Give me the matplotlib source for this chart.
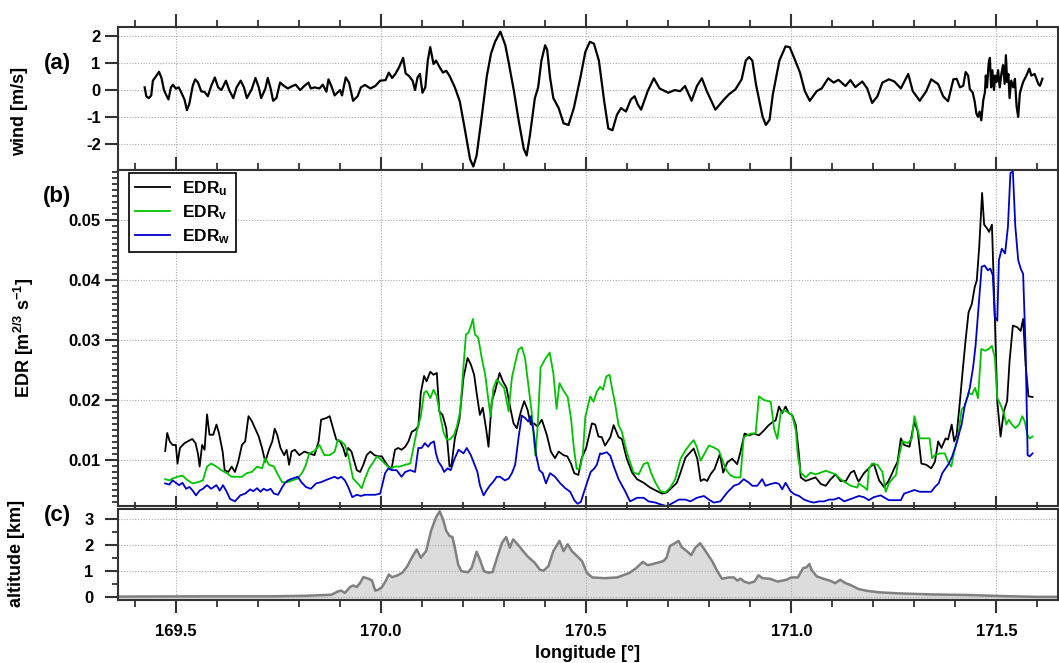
import matplotlib
matplotlib.use('Agg')
import matplotlib.pyplot as plt
from matplotlib.ticker import MultipleLocator, FormatStrFormatter

plt.rcParams['font.family'] = ['Liberation Sans', 'DejaVu Sans']
plt.rcParams['font.weight'] = 'bold'
plt.rcParams['mathtext.default'] = 'regular'
plt.rcParams['axes.unicode_minus'] = False

# (a) wind
wind_lon = [169.424, 169.428, 169.434, 169.440, 169.444, 169.451, 169.459, 169.465, 169.471, 169.477,
            169.482, 169.488, 169.493, 169.500, 169.507, 169.512, 169.521, 169.527, 169.533, 169.541,
            169.547, 169.554, 169.562, 169.570, 169.578, 169.586, 169.595, 169.603, 169.611, 169.622,
            169.630, 169.640, 169.648, 169.658, 169.666, 169.673, 169.685, 169.694, 169.702, 169.708,
            169.718, 169.724, 169.731, 169.737, 169.745, 169.754, 169.764, 169.773, 169.784, 169.792,
            169.803, 169.813, 169.823, 169.829, 169.838, 169.850, 169.858, 169.867, 169.872, 169.879,
            169.887, 169.900, 169.905, 169.914, 169.922, 169.932, 169.943, 169.951, 169.961, 169.974,
            169.986, 169.998, 170.011, 170.019, 170.027, 170.035, 170.044, 170.054, 170.060, 170.068,
            170.077, 170.083, 170.089, 170.095, 170.101, 170.108, 170.114, 170.120, 170.128, 170.134,
            170.143, 170.151, 170.159, 170.167, 170.180, 170.192, 170.204, 170.217, 170.225, 170.233,
            170.245, 170.258, 170.268, 170.278, 170.291, 170.303, 170.311, 170.324, 170.336, 170.348,
            170.355, 170.363, 170.375, 170.383, 170.391, 170.400, 170.405, 170.412, 170.420, 170.433,
            170.445, 170.457, 170.470, 170.486, 170.498, 170.509, 170.519, 170.531, 170.544, 170.554,
            170.564, 170.575, 170.585, 170.597, 170.609, 170.618, 170.626, 170.634, 170.650, 170.665,
            170.679, 170.700, 170.716, 170.729, 170.741, 170.757, 170.770, 170.782, 170.794, 170.815,
            170.836, 170.848, 170.864, 170.879, 170.889, 170.897, 170.905, 170.914, 170.930, 170.938,
            170.947, 170.955, 170.971, 170.986, 170.996, 171.008, 171.021, 171.033, 171.045, 171.062,
            171.074, 171.090, 171.103, 171.115, 171.132, 171.144, 171.156, 171.173, 171.185, 171.197,
            171.210, 171.222, 171.238, 171.251, 171.267, 171.285, 171.296, 171.313, 171.329, 171.341,
            171.358, 171.370, 171.382, 171.395, 171.403, 171.411, 171.419, 171.425, 171.431, 171.435,
            171.442, 171.447, 171.451, 171.455, 171.459, 171.463, 171.468, 171.472, 171.474, 171.477,
            171.481, 171.484, 171.487, 171.490, 171.494, 171.497, 171.500, 171.504, 171.508, 171.512,
            171.516, 171.520, 171.523, 171.526, 171.529, 171.532, 171.536, 171.541, 171.545, 171.549,
            171.553, 171.557, 171.561, 171.565, 171.573, 171.580, 171.585, 171.593, 171.602, 171.606,
            171.612]
wind = [0.10, -0.23, -0.30, -0.20, 0.35, 0.50, 0.68, 0.45, 0.00, -0.20,
        -0.35, 0.10, 0.20, 0.05, 0.10, -0.05, -0.35, -0.75, -0.50, 0.15,
        0.40, 0.28, -0.05, -0.07, -0.23, 0.15, 0.47, 0.10, 0.00, 0.35,
        0.00, -0.30, 0.10, 0.35, 0.10, -0.30, 0.03, 0.45, 0.10, -0.30,
        0.05, 0.45, 0.06, -0.40, -0.30, 0.28, 0.15, 0.06, 0.15, 0.20,
        0.00, 0.15, 0.28, 0.06, 0.10, 0.06, 0.20, -0.06, 0.40, 0.15,
        -0.20, 0.00, -0.20, 0.47, 0.28, -0.40, -0.23, 0.10, 0.19, 0.06,
        0.15, 0.35, 0.37, 0.65, 0.45, 0.60, 0.85, 1.20, 0.62, 0.53,
        0.35, 0.00, 0.47, 0.60, -0.10, 0.10, 1.10, 1.60, 0.97, 1.10,
        0.85, 0.65, 0.72, 0.53, 0.10, -0.42, -1.43, -2.57, -2.85, -2.44,
        -1.05, 0.53, 1.35, 1.80, 2.18, 1.67, 1.04, -0.04, -1.18, -2.19,
        -2.44, -1.68, -0.30, 0.10, 1.10, 1.67, 1.50, 0.47, -0.30, -0.67,
        -1.24, -1.30, -0.67, 0.47, 1.42, 1.80, 1.73, 1.10, -0.42, -1.43,
        -1.50, -0.92, -0.67, -0.80, -0.35, -0.23, -0.54, -0.73, -0.04, 0.44,
        0.06, -0.10, 0.00, -0.04, 0.15, -0.40, 0.15, 0.44, -0.04, -0.73,
        -0.35, -0.16, 0.03, 0.40, 1.10, 1.23, 1.10, 0.20, -0.99, -1.30,
        -1.11, -0.16, 1.10, 1.63, 1.60, 1.16, 0.66, -0.04, -0.40, -0.04,
        0.06, 0.44, 0.28, 0.38, 0.15, 0.37, 0.11, 0.32, 0.06, -0.48,
        -0.23, 0.28, 0.40, 0.32, 0.06, 0.60, -0.04, -0.40, -0.04, 0.40,
        0.22, -0.23, -0.42, 0.40, 0.42, 0.10, 0.16, 0.67, 0.54, 0.04,
        -0.09, -0.43, -0.87, -1.00, -0.80, -1.13, -0.37, -0.08, 0.54, 0.10,
        1.00, 1.20, 0.10, 0.74, 0.00, 0.54, 0.30, 0.74, 0.10, 0.60,
        0.93, 0.23, 1.30, 0.30, 0.60, -0.30, 0.35, 0.10, 0.42, -0.60,
        -1.00, -0.13, 0.10, 0.30, 0.54, 0.80, 0.54, 0.60, 0.23, 0.16,
        0.42]

# (b) eddy dissipation rate
edr_u_lon = [169.474, 169.479, 169.485, 169.492, 169.500, 169.504, 169.510, 169.521, 169.529, 169.540,
             169.548, 169.554, 169.558, 169.564, 169.570, 169.576, 169.582, 169.591, 169.599, 169.605,
             169.614, 169.619, 169.628, 169.636, 169.644, 169.652, 169.661, 169.669, 169.677, 169.685,
             169.694, 169.702, 169.710, 169.718, 169.727, 169.735, 169.741, 169.747, 169.755, 169.764,
             169.770, 169.776, 169.782, 169.790, 169.801, 169.813, 169.825, 169.838, 169.848, 169.854,
             169.867, 169.875, 169.883, 169.891, 169.900, 169.908, 169.914, 169.920, 169.928, 169.935,
             169.941, 169.949, 169.957, 169.965, 169.974, 169.984, 169.994, 170.002, 170.010, 170.018,
             170.026, 170.034, 170.042, 170.050, 170.059, 170.067, 170.075, 170.083, 170.091, 170.097,
             170.105, 170.111, 170.120, 170.128, 170.136, 170.142, 170.150, 170.159, 170.167, 170.172,
             170.180, 170.191, 170.201, 170.211, 170.219, 170.227, 170.233, 170.241, 170.248, 170.256,
             170.262, 170.270, 170.278, 170.289, 170.297, 170.306, 170.315, 170.323, 170.331, 170.341,
             170.349, 170.357, 170.365, 170.373, 170.381, 170.392, 170.404, 170.414, 170.424, 170.433,
             170.445, 170.454, 170.463, 170.471, 170.481, 170.489, 170.500, 170.514, 170.522, 170.530,
             170.538, 170.546, 170.559, 170.567, 170.579, 170.587, 170.599, 170.612, 170.624, 170.640,
             170.656, 170.673, 170.685, 170.697, 170.709, 170.721, 170.730, 170.742, 170.754, 170.762,
             170.771, 170.779, 170.787, 170.795, 170.803, 170.813, 170.826, 170.834, 170.844, 170.856,
             170.868, 170.876, 170.886, 170.897, 170.909, 170.921, 170.933, 170.945, 170.954, 170.962,
             170.970, 170.978, 170.986, 170.994, 171.002, 171.011, 171.019, 171.023, 171.035, 171.047,
             171.059, 171.072, 171.084, 171.096, 171.108, 171.120, 171.133, 171.145, 171.153, 171.161,
             171.164, 171.177, 171.189, 171.201, 171.214, 171.226, 171.236, 171.244, 171.251, 171.259,
             171.267, 171.275, 171.288, 171.300, 171.308, 171.317, 171.329, 171.341, 171.350, 171.358,
             171.366, 171.376, 171.382, 171.391, 171.397, 171.403, 171.411, 171.418, 171.425, 171.432,
             171.440, 171.447, 171.452, 171.458, 171.465, 171.470, 171.477, 171.482, 171.489, 171.496,
             171.502, 171.510, 171.518, 171.526, 171.532, 171.540, 171.551, 171.559, 171.565, 171.571,
             171.578, 171.588]
edr_u = [0.0115, 0.0145, 0.0131, 0.0125, 0.0125, 0.0094, 0.0120, 0.0128, 0.0131, 0.0135,
         0.0128, 0.0110, 0.0089, 0.0125, 0.0117, 0.0176, 0.0142, 0.0142, 0.0159, 0.0145,
         0.0114, 0.0083, 0.0080, 0.0089, 0.0080, 0.0097, 0.0125, 0.0131, 0.0173, 0.0165,
         0.0151, 0.0139, 0.0120, 0.0097, 0.0117, 0.0131, 0.0152, 0.0142, 0.0120, 0.0108,
         0.0117, 0.0092, 0.0114, 0.0117, 0.0108, 0.0114, 0.0111, 0.0108, 0.0131, 0.0167,
         0.0170, 0.0173, 0.0153, 0.0134, 0.0131, 0.0120, 0.0106, 0.0120, 0.0114, 0.0097,
         0.0083, 0.0080, 0.0092, 0.0108, 0.0114, 0.0108, 0.0106, 0.0106, 0.0097, 0.0089,
         0.0086, 0.0117, 0.0120, 0.0117, 0.0122, 0.0131, 0.0147, 0.0150, 0.0156, 0.0212,
         0.0240, 0.0231, 0.0247, 0.0242, 0.0245, 0.0181, 0.0175, 0.0153, 0.0089, 0.0092,
         0.0136, 0.0167, 0.0237, 0.0270, 0.0259, 0.0242, 0.0212, 0.0175, 0.0187, 0.0153,
         0.0122, 0.0198, 0.0215, 0.0245, 0.0231, 0.0220, 0.0187, 0.0161, 0.0153, 0.0181,
         0.0198, 0.0184, 0.0159, 0.0161, 0.0156, 0.0167, 0.0142, 0.0114, 0.0103, 0.0114,
         0.0108, 0.0106, 0.0094, 0.0078, 0.0075, 0.0103, 0.0120, 0.0161, 0.0159, 0.0139,
         0.0138, 0.0124, 0.0138, 0.0158, 0.0138, 0.0135, 0.0102, 0.0079, 0.0068, 0.0062,
         0.0054, 0.0048, 0.0044, 0.0046, 0.0054, 0.0062, 0.0079, 0.0104, 0.0113, 0.0119,
         0.0102, 0.0065, 0.0068, 0.0065, 0.0076, 0.0085, 0.0110, 0.0079, 0.0096, 0.0102,
         0.0093, 0.0113, 0.0144, 0.0141, 0.0144, 0.0141, 0.0149, 0.0158, 0.0163, 0.0166,
         0.0189, 0.0178, 0.0189, 0.0178, 0.0175, 0.0158, 0.0107, 0.0071, 0.0065, 0.0068,
         0.0071, 0.0060, 0.0057, 0.0068, 0.0076, 0.0065, 0.0065, 0.0079, 0.0082, 0.0068,
         0.0064, 0.0078, 0.0086, 0.0094, 0.0066, 0.0055, 0.0064, 0.0075, 0.0086, 0.0097,
         0.0136, 0.0125, 0.0122, 0.0164, 0.0148, 0.0094, 0.0092, 0.0086, 0.0097, 0.0131,
         0.0120, 0.0136, 0.0134, 0.0159, 0.0131, 0.0142, 0.0198, 0.0251, 0.0301, 0.0346,
         0.0360, 0.0388, 0.0399, 0.0455, 0.0545, 0.0492, 0.0486, 0.0480, 0.0492, 0.0338,
         0.0198, 0.0139, 0.0181, 0.0198, 0.0265, 0.0324, 0.0321, 0.0315, 0.0335, 0.0259,
         0.0206, 0.0205]

edr_v_lon = [169.474, 169.484, 169.492, 169.504, 169.516, 169.529, 169.541, 169.554, 169.566, 169.576,
             169.586, 169.599, 169.611, 169.624, 169.636, 169.648, 169.661, 169.673, 169.685, 169.698,
             169.710, 169.718, 169.727, 169.739, 169.749, 169.759, 169.772, 169.784, 169.797, 169.809,
             169.817, 169.825, 169.838, 169.850, 169.862, 169.875, 169.887, 169.895, 169.903, 169.912,
             169.920, 169.932, 169.943, 169.953, 169.961, 169.971, 169.982, 169.990, 170.001, 170.012,
             170.022, 170.034, 170.046, 170.059, 170.071, 170.079, 170.087, 170.097, 170.105, 170.111,
             170.120, 170.128, 170.136, 170.144, 170.152, 170.160, 170.168, 170.178, 170.185, 170.193,
             170.201, 170.207, 170.213, 170.219, 170.224, 170.229, 170.237, 170.246, 170.254, 170.262,
             170.267, 170.274, 170.282, 170.290, 170.300, 170.311, 170.319, 170.327, 170.335, 170.343,
             170.351, 170.359, 170.367, 170.376, 170.381, 170.389, 170.400, 170.411, 170.420, 170.428,
             170.435, 170.445, 170.455, 170.463, 170.470, 170.477, 170.485, 170.492, 170.498, 170.510,
             170.518, 170.526, 170.534, 170.541, 170.549, 170.557, 170.563, 170.571, 170.579, 170.587,
             170.599, 170.607, 170.616, 170.628, 170.640, 170.650, 170.658, 170.669, 170.681, 170.693,
             170.705, 170.717, 170.730, 170.742, 170.754, 170.762, 170.770, 170.779, 170.788, 170.799,
             170.811, 170.823, 170.831, 170.840, 170.852, 170.864, 170.876, 170.884, 170.901, 170.913,
             170.921, 170.933, 170.950, 170.958, 170.966, 170.974, 170.982, 170.990, 171.002, 171.011,
             171.016, 171.023, 171.035, 171.047, 171.059, 171.072, 171.084, 171.096, 171.108, 171.120,
             171.133, 171.145, 171.161, 171.164, 171.177, 171.185, 171.189, 171.197, 171.210, 171.222,
             171.230, 171.238, 171.247, 171.255, 171.263, 171.271, 171.284, 171.294, 171.300, 171.306,
             171.313, 171.325, 171.337, 171.343, 171.350, 171.362, 171.374, 171.382, 171.390, 171.398,
             171.406, 171.415, 171.423, 171.432, 171.440, 171.448, 171.455, 171.463, 171.473, 171.481,
             171.489, 171.496, 171.502, 171.510, 171.518, 171.524, 171.530, 171.538, 171.546, 171.555,
             171.563, 171.569, 171.575, 171.581, 171.588]
edr_v = [0.0068, 0.0066, 0.0069, 0.0072, 0.0074, 0.0066, 0.0061, 0.0063, 0.0066, 0.0089,
         0.0094, 0.0089, 0.0083, 0.0078, 0.0072, 0.0072, 0.0072, 0.0078, 0.0080, 0.0089,
         0.0086, 0.0103, 0.0092, 0.0089, 0.0075, 0.0063, 0.0063, 0.0066, 0.0069, 0.0080,
         0.0092, 0.0111, 0.0115, 0.0125, 0.0108, 0.0108, 0.0114, 0.0134, 0.0131, 0.0125,
         0.0108, 0.0069, 0.0061, 0.0053, 0.0069, 0.0086, 0.0097, 0.0106, 0.0100, 0.0092,
         0.0086, 0.0089, 0.0089, 0.0092, 0.0094, 0.0120, 0.0147, 0.0173, 0.0212, 0.0215,
         0.0203, 0.0217, 0.0206, 0.0175, 0.0147, 0.0134, 0.0134, 0.0142, 0.0156, 0.0181,
         0.0256, 0.0309, 0.0312, 0.0323, 0.0335, 0.0309, 0.0304, 0.0268, 0.0242, 0.0198,
         0.0173, 0.0220, 0.0234, 0.0228, 0.0220, 0.0181, 0.0237, 0.0262, 0.0284, 0.0288,
         0.0270, 0.0226, 0.0181, 0.0108, 0.0147, 0.0254, 0.0268, 0.0279, 0.0245, 0.0185,
         0.0228, 0.0215, 0.0205, 0.0170, 0.0120, 0.0085, 0.0086, 0.0110, 0.0172, 0.0206,
         0.0197, 0.0214, 0.0222, 0.0217, 0.0239, 0.0242, 0.0220, 0.0192, 0.0158, 0.0147,
         0.0113, 0.0096, 0.0079, 0.0076, 0.0093, 0.0096, 0.0079, 0.0062, 0.0048, 0.0046,
         0.0054, 0.0068, 0.0102, 0.0116, 0.0127, 0.0133, 0.0121, 0.0099, 0.0110, 0.0124,
         0.0121, 0.0116, 0.0102, 0.0085, 0.0074, 0.0071, 0.0071, 0.0138, 0.0144, 0.0144,
         0.0206, 0.0200, 0.0197, 0.0152, 0.0135, 0.0178, 0.0183, 0.0180, 0.0175, 0.0149,
         0.0107, 0.0079, 0.0071, 0.0079, 0.0076, 0.0079, 0.0082, 0.0079, 0.0076, 0.0068,
         0.0062, 0.0057, 0.0054, 0.0061, 0.0055, 0.0050, 0.0086, 0.0094, 0.0092, 0.0080,
         0.0047, 0.0061, 0.0069, 0.0075, 0.0108, 0.0131, 0.0128, 0.0136, 0.0173, 0.0156,
         0.0136, 0.0136, 0.0136, 0.0103, 0.0108, 0.0111, 0.0111, 0.0097, 0.0089, 0.0117,
         0.0136, 0.0184, 0.0190, 0.0212, 0.0209, 0.0220, 0.0203, 0.0285, 0.0282, 0.0285,
         0.0290, 0.0271, 0.0203, 0.0192, 0.0178, 0.0159, 0.0167, 0.0159, 0.0153, 0.0159,
         0.0173, 0.0164, 0.0142, 0.0136, 0.0139]

edr_w_lon = [169.474, 169.484, 169.492, 169.500, 169.508, 169.516, 169.525, 169.533, 169.541, 169.549,
             169.558, 169.566, 169.576, 169.586, 169.599, 169.607, 169.615, 169.624, 169.632, 169.644,
             169.657, 169.669, 169.681, 169.689, 169.698, 169.706, 169.714, 169.722, 169.731, 169.739,
             169.749, 169.757, 169.765, 169.773, 169.784, 169.797, 169.806, 169.817, 169.829, 169.842,
             169.854, 169.864, 169.875, 169.887, 169.895, 169.903, 169.912, 169.920, 169.930, 169.941,
             169.951, 169.961, 169.974, 169.986, 169.998, 170.010, 170.018, 170.026, 170.038, 170.050,
             170.059, 170.071, 170.083, 170.091, 170.099, 170.107, 170.115, 170.121, 170.129, 170.134,
             170.140, 170.148, 170.154, 170.162, 170.170, 170.178, 170.189, 170.201, 170.209, 170.219,
             170.227, 170.235, 170.241, 170.250, 170.258, 170.266, 170.274, 170.282, 170.290, 170.302,
             170.311, 170.319, 170.327, 170.335, 170.343, 170.351, 170.359, 170.365, 170.372, 170.378,
             170.386, 170.394, 170.402, 170.412, 170.424, 170.437, 170.449, 170.461, 170.471, 170.479,
             170.487, 170.495, 170.503, 170.511, 170.520, 170.526, 170.534, 170.538, 170.550, 170.559,
             170.567, 170.579, 170.595, 170.607, 170.624, 170.640, 170.652, 170.669, 170.681, 170.697,
             170.713, 170.726, 170.742, 170.754, 170.770, 170.787, 170.799, 170.811, 170.827, 170.844,
             170.860, 170.872, 170.884, 170.897, 170.905, 170.917, 170.929, 170.937, 170.950, 170.962,
             170.970, 170.978, 170.986, 170.998, 171.007, 171.019, 171.031, 171.043, 171.055, 171.068,
             171.080, 171.092, 171.104, 171.116, 171.129, 171.141, 171.153, 171.165, 171.177, 171.189,
             171.201, 171.218, 171.230, 171.238, 171.251, 171.267, 171.275, 171.288, 171.300, 171.313,
             171.325, 171.341, 171.350, 171.359, 171.368, 171.376, 171.384, 171.392, 171.400, 171.407,
             171.415, 171.423, 171.430, 171.435, 171.443, 171.449, 171.456, 171.464, 171.471, 171.479,
             171.485, 171.491, 171.496, 171.502, 171.506, 171.513, 171.521, 171.528, 171.534, 171.540,
             171.546, 171.553, 171.559, 171.565, 171.571, 171.576, 171.581, 171.588]
edr_w = [0.0061, 0.0059, 0.0066, 0.0062, 0.0058, 0.0062, 0.0052, 0.0055, 0.0049, 0.0041,
         0.0049, 0.0052, 0.0058, 0.0052, 0.0058, 0.0049, 0.0058, 0.0047, 0.0035, 0.0031,
         0.0041, 0.0044, 0.0051, 0.0048, 0.0053, 0.0047, 0.0052, 0.0049, 0.0052, 0.0044,
         0.0042, 0.0052, 0.0061, 0.0066, 0.0069, 0.0072, 0.0063, 0.0055, 0.0052, 0.0061,
         0.0063, 0.0066, 0.0069, 0.0072, 0.0069, 0.0072, 0.0066, 0.0055, 0.0038, 0.0042,
         0.0040, 0.0042, 0.0042, 0.0042, 0.0044, 0.0078, 0.0086, 0.0083, 0.0083, 0.0072,
         0.0080, 0.0083, 0.0080, 0.0120, 0.0120, 0.0128, 0.0122, 0.0128, 0.0131, 0.0111,
         0.0097, 0.0089, 0.0080, 0.0086, 0.0083, 0.0100, 0.0117, 0.0111, 0.0120, 0.0108,
         0.0094, 0.0080, 0.0058, 0.0041, 0.0050, 0.0058, 0.0064, 0.0072, 0.0072, 0.0066,
         0.0069, 0.0078, 0.0092, 0.0136, 0.0174, 0.0170, 0.0164, 0.0173, 0.0147, 0.0108,
         0.0083, 0.0078, 0.0061, 0.0078, 0.0072, 0.0061, 0.0053, 0.0047, 0.0033, 0.0027,
         0.0030, 0.0047, 0.0064, 0.0080, 0.0086, 0.0092, 0.0111, 0.0110, 0.0113, 0.0107,
         0.0090, 0.0068, 0.0048, 0.0031, 0.0037, 0.0037, 0.0031, 0.0029, 0.0026, 0.0023,
         0.0029, 0.0034, 0.0034, 0.0031, 0.0037, 0.0040, 0.0034, 0.0029, 0.0031, 0.0046,
         0.0057, 0.0060, 0.0068, 0.0062, 0.0057, 0.0057, 0.0068, 0.0057, 0.0060, 0.0062,
         0.0060, 0.0051, 0.0062, 0.0048, 0.0043, 0.0040, 0.0034, 0.0031, 0.0029, 0.0031,
         0.0031, 0.0034, 0.0034, 0.0037, 0.0031, 0.0034, 0.0037, 0.0040, 0.0038, 0.0033,
         0.0038, 0.0041, 0.0036, 0.0033, 0.0033, 0.0033, 0.0044, 0.0047, 0.0050, 0.0047,
         0.0047, 0.0047, 0.0055, 0.0061, 0.0078, 0.0086, 0.0094, 0.0106, 0.0122, 0.0139,
         0.0159, 0.0192, 0.0206, 0.0220, 0.0254, 0.0290, 0.0352, 0.0422, 0.0424, 0.0416,
         0.0419, 0.0408, 0.0338, 0.0332, 0.0433, 0.0452, 0.0444, 0.0489, 0.0578, 0.0581,
         0.0489, 0.0433, 0.0419, 0.0410, 0.0287, 0.0108, 0.0106, 0.0111]

# (c) terrain altitude
alt_lon = [169.359, 169.566, 169.731, 169.813, 169.879, 169.895, 169.903, 169.912, 169.924, 169.932,
           169.941, 169.949, 169.957, 169.970, 169.978, 169.986, 169.994, 170.002, 170.011, 170.019,
           170.027, 170.040, 170.052, 170.064, 170.077, 170.087, 170.097, 170.110, 170.122, 170.134,
           170.143, 170.151, 170.159, 170.167, 170.174, 170.180, 170.188, 170.196, 170.212, 170.221,
           170.233, 170.241, 170.251, 170.262, 170.272, 170.284, 170.295, 170.305, 170.314, 170.322,
           170.332, 170.345, 170.357, 170.363, 170.375, 170.387, 170.396, 170.408, 170.420, 170.435,
           170.445, 170.455, 170.465, 170.478, 170.490, 170.502, 170.515, 170.544, 170.576, 170.605,
           170.622, 170.638, 170.650, 170.663, 170.679, 170.688, 170.696, 170.704, 170.715, 170.725,
           170.733, 170.745, 170.756, 170.766, 170.778, 170.790, 170.807, 170.819, 170.831, 170.848,
           170.860, 170.868, 170.877, 170.885, 170.897, 170.910, 170.920, 170.930, 170.947, 170.967,
           170.988, 171.000, 171.016, 171.029, 171.037, 171.044, 171.049, 171.062, 171.078, 171.095,
           171.107, 171.119, 171.132, 171.144, 171.164, 171.185, 171.218, 171.267, 171.350, 171.432,
           171.514, 171.596, 171.650]
alt = [0.02, 0.03, 0.03, 0.05, 0.09, 0.22, 0.25, 0.16, 0.38, 0.45,
       0.39, 0.55, 0.77, 0.71, 0.64, 0.25, 0.29, 0.38, 0.61, 0.87,
       0.77, 0.84, 0.94, 1.19, 1.58, 1.84, 1.52, 1.78, 2.56, 3.08,
       3.31, 3.01, 2.56, 2.36, 2.32, 1.91, 1.26, 1.00, 0.96, 1.13,
       1.75, 1.45, 1.00, 0.94, 0.97, 1.58, 2.10, 2.32, 1.91, 2.23,
       2.06, 1.80, 1.58, 1.49, 1.32, 1.06, 1.02, 1.19, 1.78, 2.17,
       1.78, 2.04, 1.78, 1.58, 1.39, 0.93, 0.76, 0.73, 0.76, 0.93,
       1.12, 1.36, 1.23, 1.28, 1.35, 1.39, 1.52, 1.97, 2.07, 2.17,
       1.93, 1.78, 1.62, 1.91, 2.08, 1.80, 1.39, 1.02, 0.71, 0.76,
       0.76, 0.64, 0.71, 0.60, 0.54, 0.60, 0.84, 0.73, 0.71, 0.60,
       0.67, 0.76, 0.76, 1.12, 1.15, 1.28, 1.06, 0.80, 0.71, 0.63,
       0.54, 0.67, 0.54, 0.47, 0.31, 0.24, 0.18, 0.14, 0.10, 0.08,
       0.04, 0.01, 0.01]

W, H = 1059, 663
fig = plt.figure(figsize=(W / 100, H / 100), dpi=100)

left = 118 / W
width = (1058 - 118) / W
ax_a = fig.add_axes([left, 1 - 169.5 / H, width, 142.5 / H])
ax_b = fig.add_axes([left, 1 - 505.7 / H, width, 336.2 / H])
ax_c = fig.add_axes([left, 1 - 599.7 / H, width, 91.2 / H])

for ax in (ax_a, ax_b, ax_c):
    ax.set_xlim(169.359, 171.65)
    ax.xaxis.set_major_locator(MultipleLocator(0.5))
    ax.xaxis.set_minor_locator(MultipleLocator(0.1))
    ax.xaxis.set_major_formatter(FormatStrFormatter('%.1f'))
    ax.tick_params(which='major', direction='out', length=9.5, width=1.5, color='#333333',
                   labelsize=12, top=True, bottom=True, pad=3)
    ax.tick_params(which='minor', direction='out', length=5, width=1.3, color='#333333',
                   top=True, bottom=True)
    ax.tick_params(axis='y', which='minor', length=4)
    ax.tick_params(labelbottom=False)
    ax.grid(True, which='major', ls=(0, (1, 1.5)), color='#aaaaaa', lw=0.8)
    for s in ax.spines.values():
        s.set_linewidth(1.5)
        s.set_color('#333333')

ax_c.tick_params(labelbottom=True, pad=8)

# wind
ax_a.plot(wind_lon, wind, color='black', lw=1.6)
ax_a.set_ylim(-2.96, 2.35)
ax_a.yaxis.set_major_locator(MultipleLocator(1))

# EDR
ax_b.plot(edr_u_lon, edr_u, color='black', lw=1.3, label='EDR$_u$')
ax_b.plot(edr_v_lon, edr_v, color='#00c400', lw=1.3, label='EDR$_v$')
ax_b.plot(edr_w_lon, edr_w, color='#0000cc', lw=1.3, label='EDR$_w$')
ax_b.set_ylim(0.00238, 0.0584)
ax_b.yaxis.set_major_locator(MultipleLocator(0.01))
ax_b.yaxis.set_minor_locator(MultipleLocator(0.001))
ax_b.yaxis.set_major_formatter(FormatStrFormatter('%.2f'))
leg = ax_b.legend(loc='upper left', bbox_to_anchor=(11 / 940, 1 - 4 / 336.2), borderaxespad=0,
                  fancybox=False, framealpha=1, edgecolor='black', fontsize=12.5,
                  handlelength=2.0, labelspacing=0.3, borderpad=0.35, handletextpad=0.7)
leg.get_frame().set_linewidth(1.2)

# altitude
ax_c.fill_between(alt_lon, alt, -0.1, color='#dcdcdc', lw=0)
ax_c.plot(alt_lon, alt, color='#808080', lw=1.8)
ax_c.set_ylim(-0.1, 3.42)
ax_c.yaxis.set_major_locator(MultipleLocator(1))
ax_c.yaxis.set_minor_locator(MultipleLocator(0.5))

# labels
def ftext(x, y, s, **kw):
    fig.text(x / W, 1 - y / H, s, ha='center', va='center', fontweight='bold', **kw)

ftext(57, 63, '(a)', fontsize=16)
ftext(57, 196, '(b)', fontsize=16)
ftext(57, 515, '(c)', fontsize=16)
ftext(20, 111, 'wind [m/s]', fontsize=13, rotation=90)
ftext(24, 338, 'EDR [m$^{2/3}$ s$^{-1}$]', fontsize=13, rotation=90)
ftext(17, 553, 'altitude [km]', fontsize=13, rotation=90)
ftext(588, 654, 'longitude [°]', fontsize=13)

fig.savefig('out.png', dpi=100)
